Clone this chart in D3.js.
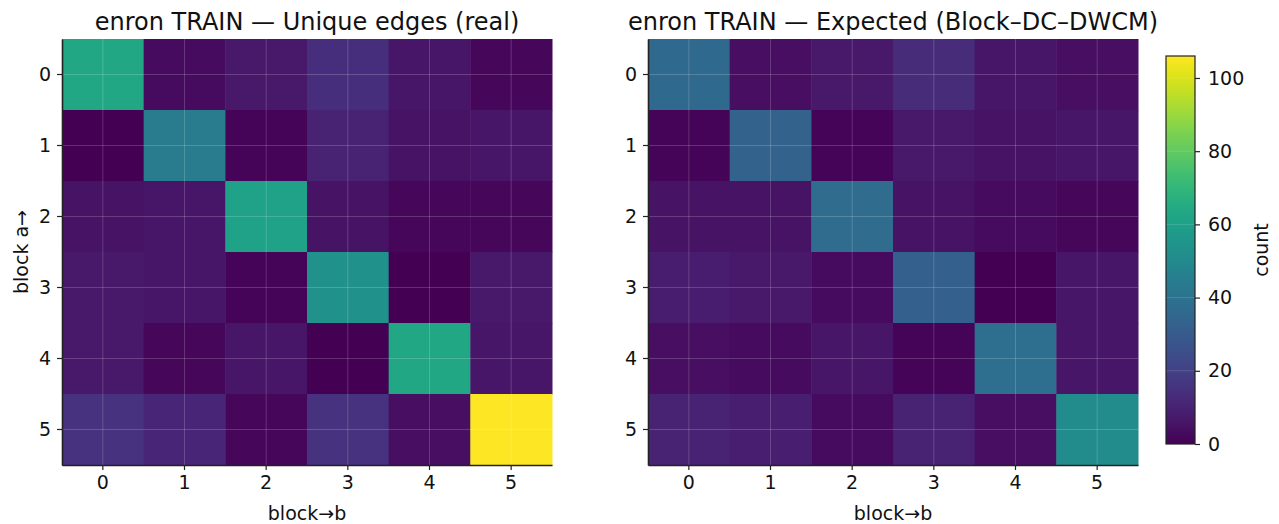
<!DOCTYPE html>
<html>
<head>
<meta charset="utf-8">
<script src="https://cdn.jsdelivr.net/npm/d3@7/dist/d3.min.js"></script>
<style>
  body { margin: 0; background: #fff; }
  svg text { font-family: "DejaVu Sans", sans-serif; fill: #111; }
</style>
</head>
<body>
<div id="canvas"></div>
<script>
// blocks on both axes
var blocks = [0, 1, 2, 3, 4, 5];
var cbTicks = [0, 20, 40, 60, 80, 100];
var vmax = 106;

// real unique edge counts, rows = block a, cols = block b
var realCounts = [
    [63, 3, 7, 14, 6, 2],
    [0, 44, 1, 10, 5, 6],
    [5, 6, 61, 5, 2, 2],
    [7, 6, 1, 53, 0, 7],
    [7, 2, 6, 0, 63, 6],
    [15, 11, 2, 15, 4, 106]
];

// expected counts from Block-DC-DWCM
var expectedCounts = [
    [36, 4, 7, 13, 6, 4],
    [1, 33, 1, 7, 5, 6],
    [5, 5, 37, 5, 3, 2],
    [8, 7, 3, 32, 0, 6],
    [4, 3, 6, 1, 38, 6],
    [10, 9, 3, 10, 4, 51]
];

var titles = ['enron TRAIN \u2014 Unique edges (real)',
              'enron TRAIN \u2014 Expected (Block\u2013DC\u2013DWCM)'];

window.onload = (function () {
    var W = 1279, H = 524;
    var svg = d3.select('#canvas').append('svg')
        .attr('width', W).attr('height', H);

    var color = d3.scaleSequential(d3.interpolateViridis).domain([0, vmax]);

    var panels = [
        {left: 62, data: realCounts, title: titles[0], ylabel: true},
        {left: 648, data: expectedCounts, title: titles[1], ylabel: false}
    ];
    var top = 39, pw = 490, ph = 426;

    panels.forEach(function (p) {
        var x = d3.scaleBand().domain(blocks).range([p.left, p.left + pw]);
        var y = d3.scaleBand().domain(blocks).range([top, top + ph]);
        var g = svg.append('g');

        var cells = [];
        p.data.forEach(function (row, i) {
            row.forEach(function (v, j) { cells.push({a: i, b: j, v: v}); });
        });
        g.selectAll('rect.cell').data(cells).enter().append('rect')
            .attr('class', 'cell')
            .attr('x', function (d) { return x(d.b); })
            .attr('y', function (d) { return y(d.a); })
            .attr('width', x.bandwidth() + 0.5)
            .attr('height', y.bandwidth() + 0.5)
            .attr('fill', function (d) { return color(d.v); });

        // faint grid through cell centres
        g.selectAll('line.vg').data(blocks).enter().append('line')
            .attr('x1', function (d) { return x(d) + x.bandwidth() / 2; })
            .attr('x2', function (d) { return x(d) + x.bandwidth() / 2; })
            .attr('y1', top).attr('y2', top + ph)
            .attr('stroke', '#fff').attr('stroke-opacity', 0.18).attr('stroke-width', 1);
        g.selectAll('line.hg').data(blocks).enter().append('line')
            .attr('y1', function (d) { return y(d) + y.bandwidth() / 2; })
            .attr('y2', function (d) { return y(d) + y.bandwidth() / 2; })
            .attr('x1', p.left).attr('x2', p.left + pw)
            .attr('stroke', '#fff').attr('stroke-opacity', 0.18).attr('stroke-width', 1);

        var xa = d3.axisBottom(x).tickSize(5).tickSizeOuter(0).tickPadding(6);
        var ya = d3.axisLeft(y).tickSize(5).tickSizeOuter(0).tickPadding(6);
        var gx = g.append('g').attr('transform', 'translate(0,' + (top + ph) + ')').call(xa);
        var gy = g.append('g').attr('transform', 'translate(' + p.left + ',0)').call(ya);
        [gx, gy].forEach(function (a) {
            a.selectAll('text').style('font-size', '19px').attr('fill', '#111');
            a.selectAll('line').attr('stroke', '#222').attr('stroke-width', 1.2);
            a.select('.domain').attr('stroke', '#222').attr('stroke-width', 1.6);
        });

        g.append('text')
            .attr('x', p.left + pw / 2).attr('y', 30)
            .attr('text-anchor', 'middle').style('font-size', '24px')
            .text(p.title);
        g.append('text')
            .attr('x', p.left + pw / 2).attr('y', 520)
            .attr('text-anchor', 'middle').style('font-size', '19px')
            .text('block\u2192b');
        if (p.ylabel) {
            g.append('text')
                .attr('transform', 'translate(28,' + (top + ph / 2) + ') rotate(-90)')
                .attr('text-anchor', 'middle').style('font-size', '19px')
                .text('block a\u2192');
        }
    });

    // colorbar
    var cbx = 1166, cbw = 29, cbtop = 56, cbbot = 444;
    var cy = d3.scaleLinear().domain([0, vmax]).range([cbbot, cbtop]);
    var grad = svg.append('defs').append('linearGradient')
        .attr('id', 'vir').attr('x1', 0).attr('x2', 0).attr('y1', 1).attr('y2', 0);
    d3.range(0, 1.0001, 0.05).forEach(function (t) {
        grad.append('stop').attr('offset', t).attr('stop-color', d3.interpolateViridis(t));
    });
    svg.append('rect').attr('x', cbx).attr('y', cbtop)
        .attr('width', cbw).attr('height', cbbot - cbtop)
        .attr('fill', 'url(#vir)');
    svg.selectAll('line.cbg').data(cbTicks.slice(1)).enter().append('line')
        .attr('x1', cbx).attr('x2', cbx + cbw)
        .attr('y1', function (d) { return cy(d); }).attr('y2', function (d) { return cy(d); })
        .attr('stroke', '#fff').attr('stroke-opacity', 0.15);
    svg.append('rect').attr('x', cbx).attr('y', cbtop)
        .attr('width', cbw).attr('height', cbbot - cbtop)
        .attr('fill', 'none').attr('stroke', '#222').attr('stroke-width', 1.2);
    var ca = svg.append('g').attr('transform', 'translate(' + (cbx + cbw) + ',0)')
        .call(d3.axisRight(cy).tickValues(cbTicks).tickSize(5).tickPadding(8));
    ca.select('.domain').remove();
    ca.selectAll('text').style('font-size', '19px').attr('fill', '#111');
    ca.selectAll('line').attr('stroke', '#222').attr('stroke-width', 1.2);
    svg.append('text')
        .attr('transform', 'translate(1268,' + ((cbtop + cbbot) / 2) + ') rotate(-90)')
        .attr('text-anchor', 'middle').style('font-size', '19px')
        .text('count');
}());
</script>
</body>
</html>
